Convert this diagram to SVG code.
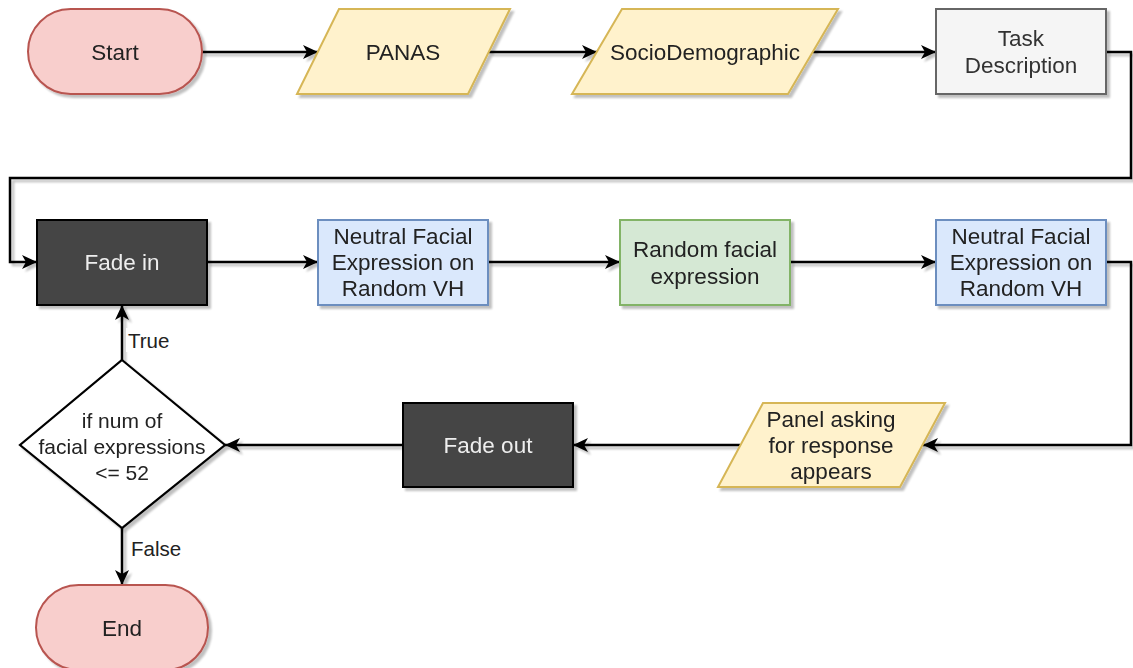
<svg xmlns="http://www.w3.org/2000/svg" width="1133" height="668" viewBox="0 0 1133 668">
  <style>
    .t { font-family: "Liberation Sans", Arial, sans-serif; font-size: 22.5px; fill: #222; text-anchor: middle; dominant-baseline: central; }
    .s { font-size: 21px; }
    .w { fill: #eeeeee; }
    .lbl { font-family: "Liberation Sans", Arial, sans-serif; font-size: 20.5px; fill: #222; dominant-baseline: central; }
    .term { fill: #f8cecc; stroke: #b85450; stroke-width: 2; }
    .io { fill: #fff2cc; stroke: #d6b656; stroke-width: 2; }
    .gray { fill: #f5f5f5; stroke: #666666; stroke-width: 2; }
    .blue { fill: #dae8fc; stroke: #6c8ebf; stroke-width: 2; }
    .green { fill: #d5e8d4; stroke: #82b366; stroke-width: 2; }
    .dark { fill: #444444; stroke: #000000; stroke-width: 2; }
    .dec { fill: #ffffff; stroke: #000000; stroke-width: 2.2; }
    .edge { fill: none; stroke: #000000; stroke-width: 2.5; }
  </style>
  <defs>
    <filter id="sh" x="-10%" y="-10%" width="130%" height="140%">
      <feGaussianBlur in="SourceAlpha" stdDeviation="1.2"/>
      <feOffset dx="3" dy="3" result="o"/>
      <feComponentTransfer><feFuncA type="linear" slope="0.25"/></feComponentTransfer>
      <feMerge><feMergeNode/><feMergeNode in="SourceGraphic"/></feMerge>
    </filter>
    <marker id="arr" markerUnits="userSpaceOnUse" markerWidth="18" markerHeight="16" refX="15" refY="7" orient="auto" overflow="visible">
      <path d="M0,0 L15,7 L0,14 L4,7 Z" fill="#000"/>
    </marker>
  </defs>
  <rect width="1133" height="668" fill="#ffffff"/>

  <g id="connectors" filter="url(#sh)">
    <path class="edge" d="M202,52 H318" marker-end="url(#arr)"/>
    <path class="edge" d="M489,52 H597" marker-end="url(#arr)"/>
    <path class="edge" d="M813,52 H936" marker-end="url(#arr)"/>
    <path class="edge" d="M1106,52 H1131 V178 H10 V262 H37" marker-end="url(#arr)"/>
    <path class="edge" d="M207,262 H318" marker-end="url(#arr)"/>
    <path class="edge" d="M488,262 H620" marker-end="url(#arr)"/>
    <path class="edge" d="M790,262 H936" marker-end="url(#arr)"/>
    <path class="edge" d="M1106,262 H1131 V445 H923" marker-end="url(#arr)"/>
    <path class="edge" d="M740,445 H573" marker-end="url(#arr)"/>
    <path class="edge" d="M403,445 H225" marker-end="url(#arr)"/>
    <path class="edge" d="M122,360 V305" marker-end="url(#arr)"/>
    <path class="edge" d="M122,528 V585" marker-end="url(#arr)"/>
  </g>

  <g id="start" filter="url(#sh)">
    <rect class="term" x="28" y="9" width="174" height="85" rx="42.5"/>
    <text class="t" x="115" y="52">Start</text>
  </g>
  <g id="panas" filter="url(#sh)">
    <polygon class="io" points="339,9 510,9 468,94 297,94"/>
    <text class="t" x="403" y="52">PANAS</text>
  </g>
  <g id="sociodemographic" filter="url(#sh)">
    <polygon class="io" points="622,9 838,9 788,94 572,94"/>
    <text class="t" x="705" y="52">SocioDemographic</text>
  </g>
  <g id="task-description" filter="url(#sh)">
    <rect class="gray" x="936" y="9" width="170" height="85"/>
    <text class="t" x="1021" y="38" style="fill:#333">Task</text>
    <text class="t" x="1021" y="65" style="fill:#333">Description</text>
  </g>
  <g id="fade-in" filter="url(#sh)">
    <rect class="dark" x="37" y="220" width="170" height="85"/>
    <text class="t w" x="122" y="262">Fade in</text>
  </g>
  <g id="neutral-1" filter="url(#sh)">
    <rect class="blue" x="318" y="220" width="170" height="85"/>
    <text class="t" x="403" y="236">Neutral Facial</text>
    <text class="t" x="403" y="262">Expression on</text>
    <text class="t" x="403" y="288">Random VH</text>
  </g>
  <g id="random-facial" filter="url(#sh)">
    <rect class="green" x="620" y="220" width="170" height="85"/>
    <text class="t" x="705" y="249">Random facial</text>
    <text class="t" x="705" y="276">expression</text>
  </g>
  <g id="neutral-2" filter="url(#sh)">
    <rect class="blue" x="936" y="220" width="170" height="85"/>
    <text class="t" x="1021" y="236">Neutral Facial</text>
    <text class="t" x="1021" y="262">Expression on</text>
    <text class="t" x="1021" y="288">Random VH</text>
  </g>
  <g id="panel" filter="url(#sh)">
    <polygon class="io" points="763,403 945,403 900,487 718,487"/>
    <text class="t" x="831" y="419">Panel asking</text>
    <text class="t" x="831" y="445">for response</text>
    <text class="t" x="831" y="471">appears</text>
  </g>
  <g id="fade-out" filter="url(#sh)">
    <rect class="dark" x="403" y="403" width="170" height="84"/>
    <text class="t w" x="488" y="445">Fade out</text>
  </g>
  <g id="decision" filter="url(#sh)">
    <polygon class="dec" points="122,360 225,445 122,528 20,445"/>
    <text class="t s" x="122" y="420">if num of</text>
    <text class="t s" x="122" y="446">facial expressions</text>
    <text class="t s" x="122" y="472">&lt;= 52</text>
  </g>
  <g id="end" filter="url(#sh)">
    <rect class="term" x="36" y="585" width="172" height="85" rx="42.5"/>
    <text class="t" x="122" y="628">End</text>
  </g>

  <g id="edge-labels">
    <rect x="126" y="328" width="48" height="24" fill="#ffffff"/>
    <text class="lbl" x="128" y="340">True</text>
    <rect x="129" y="536" width="56" height="24" fill="#ffffff"/>
    <text class="lbl" x="131" y="548">False</text>
  </g>
</svg>
